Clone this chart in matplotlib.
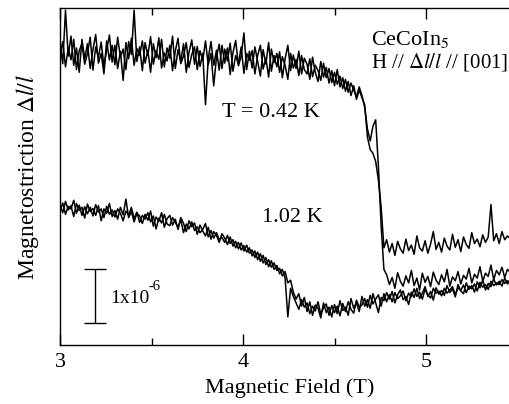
import numpy as np
import matplotlib
matplotlib.use('Agg')
import matplotlib.pyplot as plt

plt.rcParams['font.family'] = ['Liberation Serif', 'DejaVu Serif']
plt.rcParams['mathtext.fontset'] = 'stix'

# Magnetostriction in units of 1e-6 (offset curves), field in tesla
# T = 0.42 K, two sweeps
y042_a = [
    5.60, 5.21, 6.20, 5.35, 5.72, 5.18, 5.50, 5.05, 5.66, 5.30,
    5.58, 5.12, 5.47, 5.75, 5.22, 5.40, 5.02, 5.63, 5.28, 5.55,
    5.19, 5.70, 5.33, 5.48, 5.10, 5.62, 5.38, 6.20, 5.25, 5.52,
    5.08, 5.60, 5.36, 5.71, 5.20, 5.45, 5.29, 5.66, 5.15, 5.50,
    5.31, 5.72, 5.12, 5.47, 5.25, 5.58, 5.05, 5.42, 5.65, 5.20,
    5.53, 5.16, 5.40, 4.45, 5.30, 5.62, 5.18, 5.46, 5.09, 5.55,
    5.22, 5.50, 5.01, 5.41, 5.64, 5.17, 5.35, 5.78, 5.10, 5.44,
    5.13, 5.52, 5.25, 4.98, 5.47, 5.20, 5.60, 5.07, 5.36, 5.15,
    5.43, 4.95, 5.30, 5.55, 5.08, 5.37, 5.12, 5.44, 5.02, 5.31,
    5.20, 4.92, 5.33, 5.05, 4.88, 5.25, 4.96, 5.14, 4.85, 5.08,
    4.80, 5.10, 4.78, 4.95, 4.70, 4.88, 4.62, 4.80, 4.55, 4.72,
    4.58, 4.45, 3.85, 3.62, 3.55, 3.40, 3.05, 2.55, 1.80,
    1.95, 1.72, 1.88, 1.66, 1.92, 1.78, 1.70, 1.96, 1.75, 1.85,
    1.68, 2.02, 1.80, 1.74, 1.93, 1.70, 1.87, 2.10, 1.77, 1.90,
    1.72, 1.98, 1.83, 1.76, 2.05, 1.81, 1.95, 1.73, 2.00, 1.86,
    1.79, 2.08, 1.88, 1.96, 1.82, 2.04, 1.90, 2.00, 2.60, 1.93,
    2.06, 1.88, 2.10, 1.95, 2.02, 1.97,
]
y042_b = [
    5.35, 5.62, 5.15, 5.50, 5.28, 5.66, 5.10, 5.45, 5.58, 5.20,
    5.40, 5.70, 5.09, 5.52, 5.33, 5.61, 5.16, 5.47, 5.74, 5.24,
    5.55, 5.12, 5.44, 4.90, 5.60, 5.30, 5.68, 5.18, 5.49, 5.36,
    5.63, 5.22, 5.46, 5.05, 5.58, 5.32, 5.69, 5.13, 5.41, 5.26,
    5.55, 5.08, 5.44, 5.68, 5.21, 5.35, 5.60, 5.14, 5.38, 5.52,
    5.10, 5.45, 5.27, 5.63, 5.19, 5.40, 4.80, 5.33, 5.57, 5.12,
    5.48, 5.26, 5.59, 5.07, 5.36, 5.20, 5.52, 5.03, 5.40, 5.27,
    5.45, 5.02, 5.36, 5.55, 5.11, 5.32, 4.96, 5.48, 5.23, 5.40,
    5.05, 5.34, 5.18, 4.92, 5.40, 5.13, 5.29, 4.99, 5.36, 5.10,
    5.02, 5.30, 4.97, 5.18, 5.08, 4.90, 5.22, 4.95, 5.12, 4.86,
    5.05, 4.83, 4.98, 4.75, 4.92, 4.68, 4.85, 4.72, 4.60, 4.78,
    4.62, 4.40, 4.00, 3.78, 4.05, 4.17, 3.30, 2.20, 1.40,
    1.30, 1.12, 1.25, 1.05, 1.34, 1.18, 1.09, 1.28, 1.15, 1.38,
    1.10, 1.24, 1.02, 1.33, 1.16, 1.27, 1.08, 1.35, 1.20, 1.12,
    1.30, 1.17, 1.40, 1.09, 1.26, 1.19, 1.36, 1.13, 1.29, 1.22,
    1.42, 1.15, 1.31, 1.24, 1.45, 1.18, 1.33, 1.27, 1.48, 1.21,
    1.38, 1.30, 1.44, 1.25, 1.40, 1.35,
]
# T = 1.02 K, two sweeps
y102_a = [
    2.60, 2.45, 2.66, 2.50, 2.58, 2.38, 2.62, 2.49, 2.55, 2.35,
    2.61, 2.47, 2.53, 2.40, 2.58, 2.30, 2.52, 2.44, 2.62, 2.38,
    2.49, 2.33, 2.55, 2.41, 2.70, 2.36, 2.47, 2.28, 2.44, 2.39,
    2.25, 2.42, 2.31, 2.48, 2.20, 2.37, 2.29, 2.45, 2.18, 2.34,
    2.40, 2.22, 2.33, 2.14, 2.36, 2.25, 2.10, 2.30, 2.19, 2.26,
    2.05, 2.22, 2.11, 2.02, 2.18, 1.96, 2.10, 2.03, 1.90, 2.06,
    1.98, 1.86, 2.00, 1.83, 1.92, 1.78, 1.89, 1.74, 1.85, 1.70,
    1.76, 1.62, 1.72, 1.55, 1.66, 1.49, 1.58, 1.44, 1.52, 1.38,
    1.42, 1.28, 1.36, 1.15, 1.20, 0.98, 0.85, 0.95, 0.72, 0.88,
    0.62, 0.80, 0.55, 0.74, 0.68, 0.50, 0.78, 0.60, 0.70, 0.52,
    0.75, 0.58, 0.82, 0.64, 0.70, 0.55, 0.86, 0.68, 0.78, 0.62,
    0.90, 0.72, 0.84, 0.68, 0.95, 0.78, 0.60, 0.88, 0.82, 0.97,
    0.85, 0.99, 0.78, 0.93, 1.02, 0.84, 0.90, 0.75, 0.98, 0.88,
    1.05, 0.86, 0.96, 1.08, 0.90, 0.99, 0.83, 1.06, 0.94, 1.01,
    0.92, 1.10, 0.97, 1.04, 0.89, 1.12, 1.00, 0.95, 1.15, 1.03,
    1.10, 0.98, 1.17, 1.06, 1.20, 1.02, 1.14, 1.08, 1.22, 1.11,
    1.18, 1.09, 1.24, 1.13, 1.20,
]
y102_b = [
    2.48, 2.63, 2.42, 2.57, 2.52, 2.68, 2.44, 2.59, 2.40, 2.56,
    2.43, 2.55, 2.39, 2.60, 2.46, 2.52, 2.36, 2.57, 2.42, 2.50,
    2.37, 2.52, 2.44, 2.30, 2.48, 2.40, 2.55, 2.34, 2.46, 2.27,
    2.40, 2.33, 2.45, 2.28, 2.39, 2.15, 2.35, 2.26, 2.42, 2.24,
    2.21, 2.36, 2.27, 2.18, 2.32, 2.08, 2.24, 2.15, 2.28, 2.12,
    2.19, 2.08, 2.14, 2.25, 2.00, 2.12, 1.98, 2.08, 1.95, 1.99,
    1.90, 2.03, 1.88, 1.95, 1.80, 1.90, 1.76, 1.84, 1.72, 1.80,
    1.65, 1.74, 1.58, 1.69, 1.52, 1.62, 1.45, 1.56, 1.40, 1.47,
    1.32, 1.40, 1.24, 0.52, 1.05, 0.90, 0.78, 0.66, 0.84, 0.70,
    0.78, 0.58, 0.72, 0.63, 0.80, 0.57, 0.69, 0.76, 0.55, 0.73,
    0.60, 0.72, 0.54, 0.77, 0.62, 0.80, 0.66, 0.59, 0.83, 0.70,
    0.74, 0.86, 0.70, 0.92, 0.76, 0.85, 0.93, 0.72, 0.95, 0.80,
    0.93, 0.80, 0.97, 0.86, 0.91, 1.00, 0.82, 0.96, 0.89, 1.04,
    0.90, 0.98, 0.85, 1.03, 0.93, 0.87, 1.05, 0.96, 1.00, 0.91,
    1.05, 0.96, 1.02, 1.08, 0.93, 1.06, 1.01, 1.11, 0.97, 1.09,
    1.04, 1.13, 1.00, 1.16, 1.07, 1.12, 1.03, 1.18, 1.10, 1.15,
    1.12, 1.21, 1.14, 1.19, 1.16,
]
field_min, field_max = 3.0, 5.46

fig = plt.figure(figsize=(5.10, 4.04), dpi=100)
ax = fig.add_axes([60/510, 1 - 345/404, 460/510, 337/404])

for ys in (y042_a, y042_b, y102_a, y102_b):
    h = np.linspace(field_min, field_max, len(ys))
    ax.plot(h, ys, color='black', lw=1.1)

ax.set_xlim(3.0, 3.0 + 460/183)
ax.set_ylim(0, 337/54)
ax.set_xticks([3, 4, 5])
ax.set_xticks([3.5, 4.5], minor=True)
ax.set_yticks([])
ax.tick_params(axis='x', which='both', direction='in', top=True, labelsize=16, pad=6, width=1)
ax.tick_params(axis='x', which='major', length=8)
ax.tick_params(axis='x', which='minor', length=5)
ax.spines['right'].set_visible(False)
for s in ('left', 'top', 'bottom'):
    ax.spines[s].set_linewidth(1)

ax.set_xlabel('Magnetic Field (T)', fontsize=16, labelpad=4)
ax.set_ylabel(r'Magnetostriction $\Delta l/l$', fontsize=17, labelpad=14)

ax.text(4.15, 4.31, 'T = 0.42 K', fontsize=16, ha='center', va='center')
ax.text(4.27, 2.37, '1.02 K', fontsize=16, ha='center', va='center')
ax.text(4.70, 5.65, r'CeCoIn$_5$', fontsize=16, ha='left', va='center')
ax.text(4.70, 5.24, r'H // $\Delta l/l$ // [001]', fontsize=15, ha='left', va='center')

# scale bar 1x10^-6
ax.errorbar([3.19], [0.9], yerr=[0.5], color='black', capsize=8, lw=1, capthick=1)
ax.text(3.275, 0.87, '1x10', fontsize=14, ha='left', va='center')
ax.text(3.485, 1.08, '-6', fontsize=10.5, ha='left', va='center')

fig.savefig('out.png', dpi=100)
